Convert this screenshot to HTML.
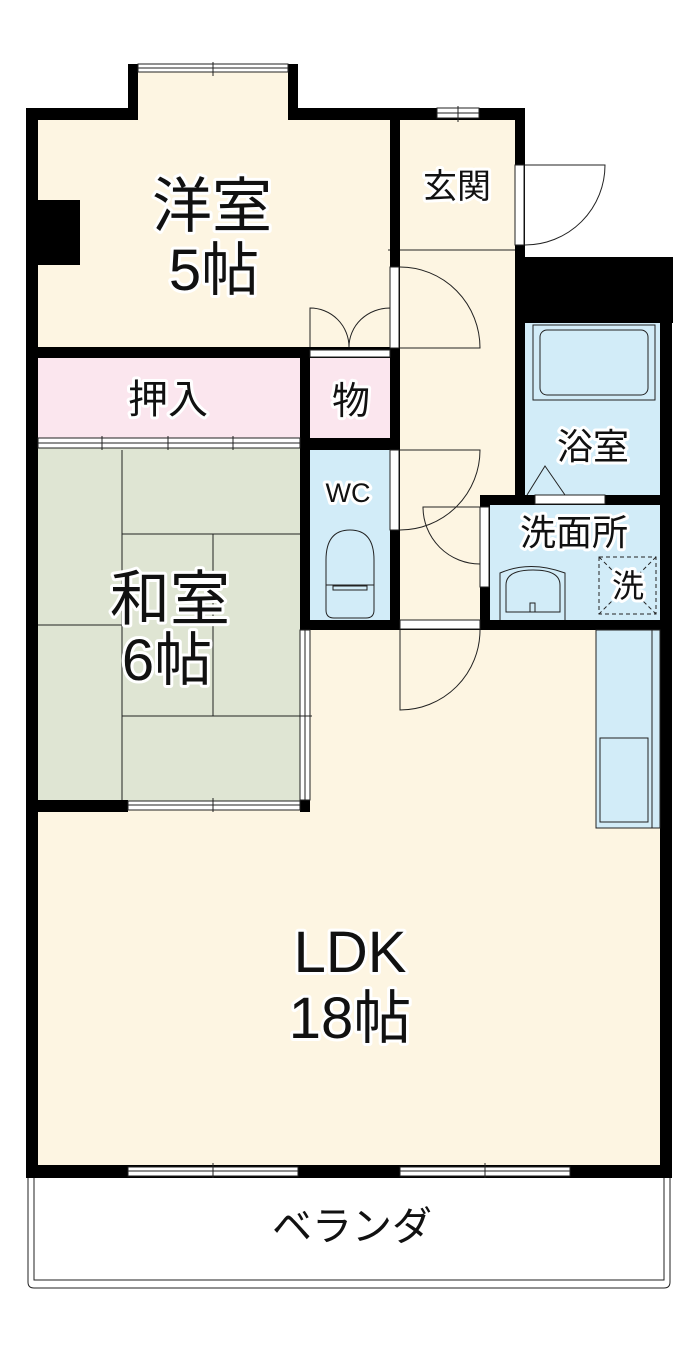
<!DOCTYPE html>
<html><head><meta charset="utf-8"><style>
html,body{margin:0;padding:0;background:#fff}
svg{display:block}
text{font-family:"Liberation Sans","Noto Sans CJK JP",sans-serif;text-anchor:middle;fill:#111;paint-order:stroke;stroke:#fff;stroke-width:6px;stroke-linejoin:round}
</style></head><body>
<svg width="700" height="1346" viewBox="0 0 700 1346" xmlns="http://www.w3.org/2000/svg">
<!-- floors -->
<rect x="38" y="630" width="622" height="535" fill="#fdf5e2"/>
<rect x="38" y="120" width="352" height="230" fill="#fdf5e2"/>
<rect x="138" y="70" width="150" height="52" fill="#fdf5e2"/>
<rect x="400" y="120" width="115" height="510" fill="#fdf5e2"/>
<rect x="38" y="358" width="262" height="82" fill="#fbe6ee"/>
<rect x="310" y="358" width="80" height="82" fill="#fbe6ee"/>
<rect x="38" y="448" width="262" height="354" fill="#dfe5d3"/>
<rect x="310" y="450" width="80" height="170" fill="#d2ecf8"/>
<rect x="525" y="322" width="135" height="173" fill="#d2ecf8"/>
<rect x="490" y="505" width="170" height="115" fill="#d2ecf8"/>
<!-- tatami lines -->
<g stroke="#222" stroke-width="1" fill="none">
<line x1="122" y1="450" x2="122" y2="800"/>
<line x1="122" y1="534" x2="300" y2="534"/>
<line x1="38" y1="625" x2="122" y2="625"/>
<line x1="213" y1="534" x2="213" y2="716"/>
<line x1="122" y1="716" x2="312" y2="716"/>
<line x1="388" y1="250" x2="515" y2="250"/>
</g>
<!-- walls -->
<g fill="#000">
<rect x="26" y="108" width="12" height="1070"/>
<rect x="26" y="108" width="112" height="12"/>
<rect x="128" y="64" width="10" height="56"/>
<rect x="288" y="64" width="10" height="56"/>
<rect x="288" y="108" width="237" height="12"/>
<rect x="390" y="108" width="10" height="522"/>
<rect x="515" y="108" width="10" height="395"/>
<rect x="515" y="257" width="158" height="66"/>
<rect x="660" y="257" width="12" height="921"/>
<rect x="26" y="200" width="54" height="65"/>
<rect x="26" y="347" width="364" height="11"/>
<rect x="300" y="347" width="10" height="283"/>
<rect x="300" y="438" width="100" height="12"/>
<rect x="300" y="620" width="190" height="10"/>
<rect x="480" y="495" width="192" height="10"/>
<rect x="480" y="495" width="10" height="135"/>
<rect x="480" y="620" width="192" height="10"/>
<rect x="26" y="800" width="102" height="12"/>
<rect x="300" y="800" width="10" height="12"/>
<rect x="26" y="1165" width="646" height="13"/>
</g>
<!-- openings (white) -->
<g fill="#fff" stroke="#222" stroke-width="1">
<rect x="138" y="64" width="150" height="8"/>
<rect x="437" y="108" width="42" height="10"/>
<rect x="515" y="165" width="9" height="80"/>
<rect x="390" y="267" width="9" height="81"/>
<rect x="310" y="350" width="80" height="7"/>
<rect x="390" y="450" width="9" height="80"/>
<rect x="480" y="507" width="9" height="80"/>
<rect x="400" y="620" width="80" height="9"/>
<rect x="535" y="495" width="70" height="9"/>
<rect x="128" y="801" width="172" height="9"/>
<rect x="128" y="1167" width="170" height="9"/>
<rect x="400" y="1167" width="170" height="9"/>
<rect x="38" y="438" width="262" height="10"/>
<rect x="300" y="630" width="10" height="170"/>
</g>
<g stroke="#222" stroke-width="1" fill="none">
<line x1="138" y1="68" x2="288" y2="68"/><line x1="213" y1="62" x2="213" y2="76"/>
<line x1="437" y1="113" x2="479" y2="113"/><line x1="458" y1="106" x2="458" y2="122"/>
<line x1="38" y1="443" x2="300" y2="443"/>
<line x1="102" y1="436" x2="102" y2="450"/><line x1="168" y1="436" x2="168" y2="450"/><line x1="233" y1="436" x2="233" y2="450"/>
<line x1="128" y1="805" x2="300" y2="805"/><line x1="213" y1="798" x2="213" y2="812"/>
<line x1="305" y1="630" x2="305" y2="800"/><line x1="298" y1="716" x2="312" y2="716"/>
<line x1="128" y1="1171" x2="298" y2="1171"/><line x1="213" y1="1163" x2="213" y2="1178"/>
<line x1="400" y1="1171" x2="570" y2="1171"/><line x1="485" y1="1163" x2="485" y2="1178"/>
<!-- doors -->
<path d="M525 165 L605 165 A80 80 0 0 1 525 245"/>
<path d="M400 267 A80 81 0 0 1 480 348 L400 348"/>
<path d="M310 347 L310 308 A39 39 0 0 1 349 347"/>
<path d="M390 347 L390 308 A41 39 0 0 0 349 347"/>
<path d="M400 450 L480 450 A80 80 0 0 1 400 530"/>
<path d="M480 507 L423 507 A57 57 0 0 0 480 564"/>
<path d="M400 630 L400 710 A80 80 0 0 0 480 630"/>
<!-- bath -->
<rect x="533" y="325" width="122" height="75" fill="#d2ecf8"/>
<rect x="540" y="330" width="108" height="65" rx="7" fill="#d2ecf8"/>
<path d="M527 495 L545 466 L565 495"/>
<!-- toilet -->
<path d="M326 560 Q326 530 350 530 Q374 530 374 560 L374 610 Q374 618 366 618 L334 618 Q326 618 326 610 Z" fill="#d2ecf8"/>
<line x1="326" y1="585" x2="374" y2="585"/><rect x="333" y="586" width="34" height="4"/>
<!-- sink -->
<path d="M500 620 L500 573 Q530 560 565 573 L565 620" fill="#d2ecf8"/>
<path d="M506 612 L506 585 Q506 570 533 570 Q560 570 560 585 L560 612 Z"/>
<rect x="530" y="603" width="5" height="9"/>
<!-- washer -->
<rect x="599" y="557" width="57" height="57" stroke-dasharray="4,3"/>
<path d="M599 557 L656 614 M656 557 L599 614" stroke-dasharray="4,3"/>
<!-- kitchen -->
<rect x="596" y="630" width="64" height="198" fill="#d2ecf8"/>
<line x1="652" y1="630" x2="652" y2="828"/>
<rect x="600" y="738" width="48" height="84"/>
<!-- veranda -->
<path d="M28 1178 L28 1282 Q28 1288 34 1288 L664 1288 Q670 1288 670 1282 L670 1178"/>
<path d="M34 1178 L34 1280 L664 1280 L664 1178"/>
</g>
<!-- labels -->
<text x="212" y="227" font-size="60">洋室</text>
<text x="214" y="290" font-size="58">5帖</text>
<text x="457" y="198" font-size="34">玄関</text>
<text x="168" y="413" font-size="40">押入</text>
<text x="351" y="414" font-size="38">物</text>
<text x="348" y="502" font-size="27">WC</text>
<text x="593" y="459" font-size="36">浴室</text>
<text x="574" y="545" font-size="36">洗面所</text>
<text x="628" y="597" font-size="32">洗</text>
<text x="170" y="620" font-size="60">和室</text>
<text x="167" y="680" font-size="58">6帖</text>
<text x="350" y="972" font-size="58">LDK</text>
<text x="350" y="1038" font-size="58">18帖</text>
<text x="352" y="1240" font-size="40">ベランダ</text>
</svg>
</body></html>
